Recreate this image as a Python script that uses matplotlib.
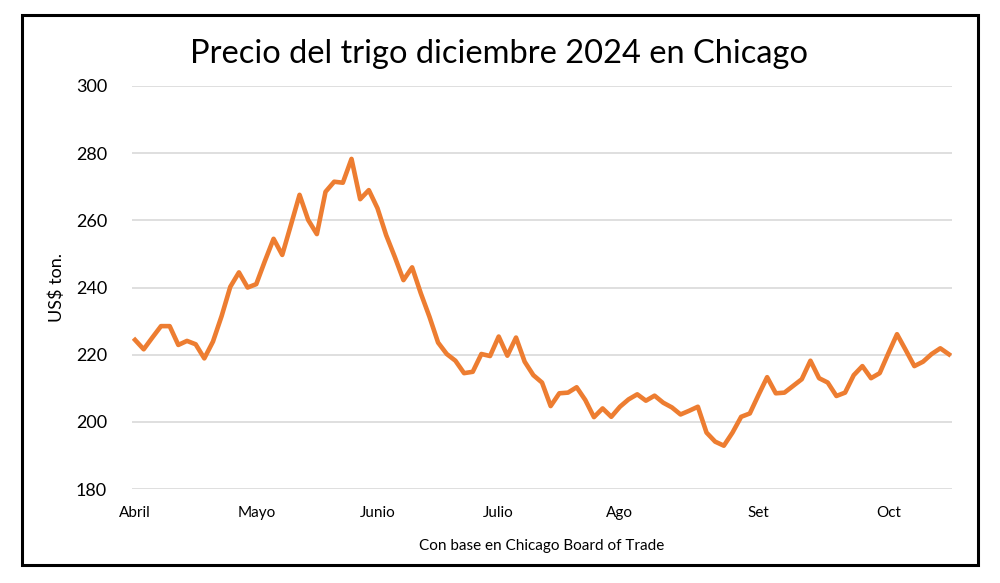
import numpy as np
import matplotlib
matplotlib.use("Agg")
import matplotlib.pyplot as plt
from matplotlib.patches import Rectangle

plt.rcParams["font.family"] = ["Lato", "DejaVu Sans"]

# precio (US$/ton)
precio = [
    224.4, 221.6, 225.1, 228.5, 228.5, 222.9, 224.1, 223.1, 218.9, 223.9,
    231.5, 240.2, 244.5, 240.0, 241.0, 247.9, 254.5, 249.7, 258.6, 267.6,
    260.1, 255.9, 268.5, 271.5, 271.2, 278.3, 266.3, 269.0, 263.6, 255.6,
    249.1, 242.2, 246.0, 238.3, 231.3, 223.6, 220.2, 218.2, 214.5, 214.9,
    220.2, 219.6, 225.4, 219.7, 225.1, 217.9, 213.9, 211.7, 204.7, 208.5,
    208.7, 210.3, 206.5, 201.4, 204.0, 201.5, 204.5, 206.7, 208.2, 206.3,
    207.8, 205.7, 204.3, 202.2, 203.3, 204.5, 196.8, 194.1, 192.9, 196.8,
    201.5, 202.5, 208.0, 213.3, 208.5, 208.7, 210.7, 212.7, 218.2, 213.0,
    211.7, 207.7, 208.7, 213.9, 216.6, 213.0, 214.5, 220.4, 226.1, 221.4,
    216.6, 217.9, 220.2, 221.9, 220.1,
]
meses = ["Abril", "Mayo", "Junio", "Julio", "Ago", "Set", "Oct"]
pos_meses = [0, 14, 28, 42, 56, 72, 87]

x = np.arange(len(precio))

fig = plt.figure(figsize=(10, 5.83), dpi=100)
ax = fig.add_axes([0.132, 0.1612, 0.820, 0.6913])

ax.plot(x, precio, color="#ED7D31", linewidth=3.3, solid_joinstyle="round")

ax.set_ylim(180, 300)
ax.set_yticks(np.arange(180, 301, 20))
ax.set_xlim(-0.35, len(precio) - 1 + 0.35)
ax.set_xticks(pos_meses)
ax.set_xticklabels(meses)
ax.grid(axis="y", color="#d9d9d9", linewidth=1.2)
ax.set_axisbelow(True)
for s in ax.spines.values():
    s.set_visible(False)
ax.tick_params(length=0)
ax.tick_params(axis="y", labelsize=13, pad=18)
ax.tick_params(axis="x", labelsize=11, pad=12)

ax.set_ylabel("US$ ton.", fontsize=13, labelpad=8)
ax.set_xlabel("Con base en Chicago Board of Trade", fontsize=11, labelpad=14)
fig.text(0.499, 0.907, "Precio del trigo diciembre 2024 en Chicago",
         ha="center", va="center", fontsize=23.5)

# marco
fig.patches.append(Rectangle((0.022, 0.031), 0.956, 0.943, transform=fig.transFigure,
                             fill=False, edgecolor="black", linewidth=2.2))

fig.savefig("out.png", dpi=100, facecolor="white")
